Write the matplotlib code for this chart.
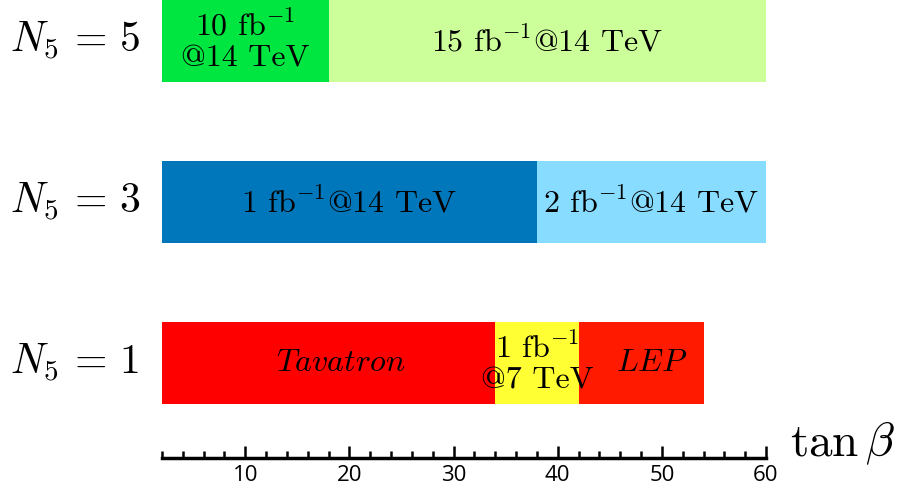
import matplotlib
matplotlib.use('Agg')
import matplotlib.pyplot as plt
from matplotlib.ticker import MultipleLocator

plt.rcParams['mathtext.fontset'] = 'cm'

# rows (bottom to top)
row_labels = [r'$N_5\,=\,1$', r'$N_5\,=\,3$', r'$N_5\,=\,5$']
row_pos = [0, 1, 2]

# segments: row index, start, end of tan(beta) range
seg_row = [0, 0, 0, 1, 1, 2, 2]
seg_start = [2, 34, 42, 2, 38, 2, 18]
seg_end = [34, 42, 54, 38, 60, 18, 60]
seg_colors = ['#ff0000', '#ffff33', '#ff1a00', '#0077bb', '#88dcff', '#00e640', '#ccff99']
seg_text = [r'$Tavatron$', '1 fb$^{-1}$\n@7 TeV', r'$LEP$',
            '1 fb$^{-1}$@14 TeV', '2 fb$^{-1}$@14 TeV',
            '10 fb$^{-1}$\n@14 TeV', '15 fb$^{-1}$@14 TeV']
text_x = [19.2, 38, 49, 20, 49, 10, 39]

fig = plt.figure(figsize=(9.07, 4.91), dpi=100)
ax = fig.add_axes([162 / 907, 1 - 458 / 491, (766 - 162) / 907, 458 / 491])

for r, s, e, c, t, tx in zip(seg_row, seg_start, seg_end, seg_colors, seg_text, text_x):
    ax.barh(row_pos[r], e - s, left=s, height=0.505, color=c, edgecolor='none')
    ax.text(tx, row_pos[r], t, ha='center', va='center', fontsize=23,
            fontname='cmr10', linespacing=1.15)

ax.set_xlim(2, 60)
ax.set_ylim(-0.59, 2.255)

# row labels on the left
for y, lab in zip(row_pos, row_labels):
    ax.text(-12.6, y, lab, ha='left', va='center', fontsize=30, clip_on=False)

ax.text(62.3, -0.5, r'$\tan\beta$', ha='left', va='center', fontsize=34, clip_on=False)

for sp in ['top', 'left', 'right']:
    ax.spines[sp].set_visible(False)
ax.spines['bottom'].set_linewidth(2.5)
ax.set_yticks([])
ax.xaxis.set_major_locator(MultipleLocator(10))
ax.xaxis.set_minor_locator(MultipleLocator(2))
ax.tick_params(axis='x', which='major', direction='in', length=9, width=1.8, pad=5,
               labelsize=16)
ax.tick_params(axis='x', which='minor', direction='in', length=5, width=1.8)
for lbl in ax.get_xticklabels():
    lbl.set_fontfamily('Open Sans')

fig.savefig('out.png', dpi=100)
